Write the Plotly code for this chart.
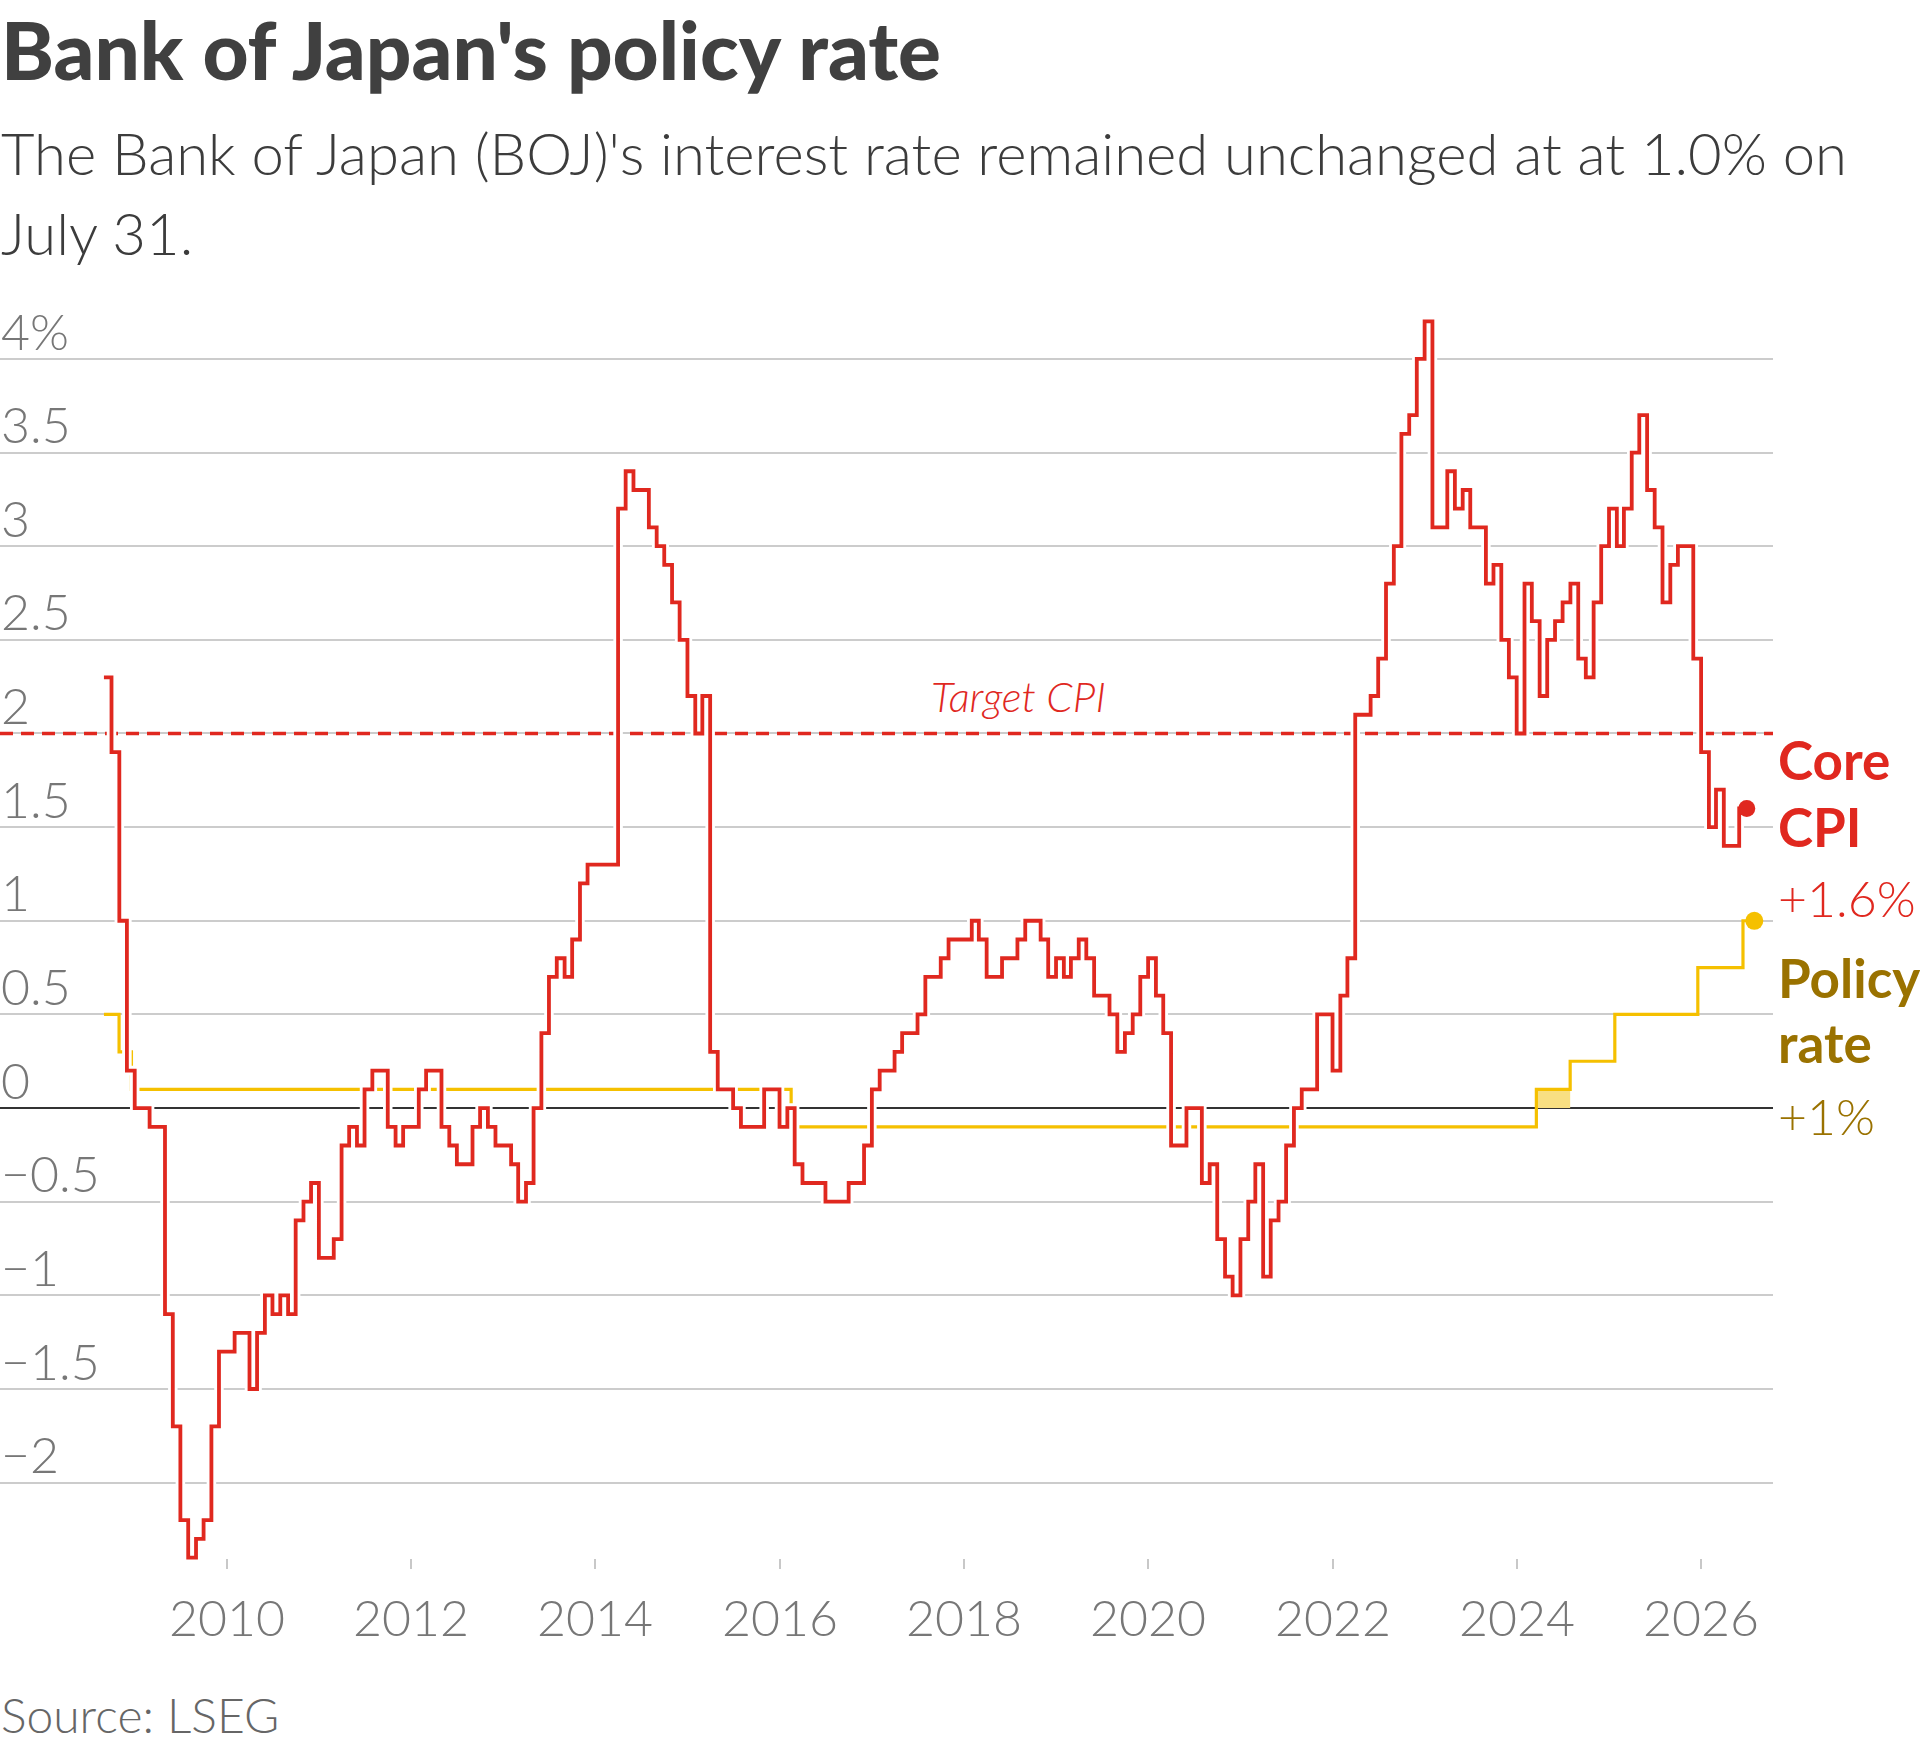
import pandas as pd
import plotly.graph_objects as go

# ---------------- data ----------------
cpi_start = "2008-09-01"   # first monthly observation
cpi_values = [
    # 2008 Sep-Dec
    2.3, 1.9, 1.0, 0.2,
    # 2009
    0.0, 0.0, -0.1, -0.1, -1.1, -1.7, -2.2, -2.4, -2.3, -2.2, -1.7, -1.3,
    # 2010
    -1.3, -1.2, -1.2, -1.5, -1.2, -1.0, -1.1, -1.0, -1.1, -0.6, -0.5, -0.4,
    # 2011
    -0.8, -0.8, -0.7, -0.2, -0.1, -0.2, 0.1, 0.2, 0.2, -0.1, -0.2, -0.1,
    # 2012
    -0.1, 0.1, 0.2, 0.2, -0.1, -0.2, -0.3, -0.3, -0.1, 0.0, -0.1, -0.2,
    # 2013
    -0.2, -0.3, -0.5, -0.4, 0.0, 0.4, 0.7, 0.8, 0.7, 0.9, 1.2, 1.3,
    # 2014
    1.3, 1.3, 1.3, 3.2, 3.4, 3.3, 3.3, 3.1, 3.0, 2.9, 2.7, 2.5,
    # 2015
    2.2, 2.0, 2.2, 0.3, 0.1, 0.1, 0.0, -0.1, -0.1, -0.1, 0.1, 0.1,
    # 2016
    -0.1, 0.0, -0.3, -0.4, -0.4, -0.4, -0.5, -0.5, -0.5, -0.4, -0.4, -0.2,
    # 2017
    0.1, 0.2, 0.2, 0.3, 0.4, 0.4, 0.5, 0.7, 0.7, 0.8, 0.9, 0.9,
    # 2018
    0.9, 1.0, 0.9, 0.7, 0.7, 0.8, 0.8, 0.9, 1.0, 1.0, 0.9, 0.7,
    # 2019
    0.8, 0.7, 0.8, 0.9, 0.8, 0.6, 0.6, 0.5, 0.3, 0.4, 0.5, 0.7,
    # 2020
    0.8, 0.6, 0.4, -0.2, -0.2, 0.0, 0.0, -0.4, -0.3, -0.7, -0.9, -1.0,
    # 2021
    -0.7, -0.5, -0.3, -0.9, -0.6, -0.5, -0.2, 0.0, 0.1, 0.1, 0.5, 0.5,
    # 2022
    0.2, 0.6, 0.8, 2.1, 2.1, 2.2, 2.4, 2.8, 3.0, 3.6, 3.7, 4.0,
    # 2023
    4.2, 3.1, 3.1, 3.4, 3.2, 3.3, 3.1, 3.1, 2.8, 2.9, 2.5, 2.3,
    # 2024
    2.0, 2.8, 2.6, 2.2, 2.5, 2.6, 2.7, 2.8, 2.4, 2.3, 2.7, 3.0,
    # 2025
    3.2, 3.0, 3.2, 3.5, 3.7, 3.3, 3.1, 2.7, 2.9, 3.0, 3.0, 2.4,
    # 2026 Jan-Jun
    1.9, 1.5, 1.7, 1.4, 1.4, 1.6,
]

policy_dates = ["2008-09-01", "2008-10-31", "2008-12-19", "2016-02-16",
                "2024-03-19", "2024-07-31", "2025-01-24", "2025-12-19",
                "2026-06-16", "2026-07-31"]
policy_values = [0.5, 0.3, 0.1, -0.1, 0.1, 0.25, 0.5, 0.75, 1.0, 1.0]

band_dates = ["2024-03-19", "2024-07-31"]   # 0-0.1% target range
band_range = [0.0, 0.1]

target_cpi = 2.0

x_range = ["2007-07-17", "2026-10-13"]
y_range = [-2.461, 4.261]

year_ticks = [2010, 2012, 2014, 2016, 2018, 2020, 2022, 2024, 2026]
y_ticks = [4, 3.5, 3, 2.5, 2, 1.5, 1, 0.5, 0, -0.5, -1, -1.5, -2]
y_labels = ["4%", "3.5", "3", "2.5", "2", "1.5", "1", "0.5", "0",
            "\u22120.5", "\u22121", "\u22121.5", "\u22122"]

cpi_label = "+1.6%"
policy_label = "+1%"

# ---------------- styling ----------------
RED = "#e0281f"
YELLOW = "#f5c000"
GOLD = "#9a7200"
BAND = "#f8df82"
GRID = "#cccccc"
TICKTXT = "#777777"
FONT = "Lato, 'Open Sans', sans-serif"

W, H = 1920, 1747
L, R, T, B = 0, 1773, 310, 1569   # plot area in pixels


def px(x):
    return (x - L) / (R - L)


def py(y):
    return (B - y) / (B - T)


months = pd.date_range(cpi_start, periods=len(cpi_values), freq="MS")
cpi_end = months[-1] + pd.offsets.MonthBegin(1)
cpi_x = list(months) + [cpi_end]
cpi_y = cpi_values + [cpi_values[-1]]

pol_x = pd.to_datetime(policy_dates)
xr = pd.to_datetime(x_range)

fig = go.Figure()

# target CPI reference line (dashed) and zero line
fig.add_trace(go.Scatter(
    x=[xr[0], xr[1]], y=[target_cpi, target_cpi], mode="lines",
    line=dict(color=RED, width=3.5, dash="13px,8px"), hoverinfo="skip", showlegend=False))
fig.add_trace(go.Scatter(
    x=[xr[0], xr[1]], y=[0, 0], mode="lines",
    line=dict(color="#333333", width=2), hoverinfo="skip", showlegend=False))

# target-range band
bx = pd.to_datetime(band_dates)
fig.add_trace(go.Scatter(
    x=[bx[0], bx[1], bx[1], bx[0], bx[0]],
    y=[band_range[0], band_range[0], band_range[1], band_range[1], band_range[0]],
    fill="toself", fillcolor=BAND, mode="lines", line=dict(width=0),
    hoverinfo="skip", showlegend=False))

# policy rate
fig.add_trace(go.Scatter(
    x=pol_x, y=policy_values, mode="lines", line=dict(color=YELLOW, width=3.2, shape="hv"),
    showlegend=False))

# white halo under CPI
fig.add_trace(go.Scatter(
    x=cpi_x, y=cpi_y, mode="lines", line=dict(color="white", width=9.5, shape="hv"),
    hoverinfo="skip", showlegend=False))

# core CPI
fig.add_trace(go.Scatter(
    x=cpi_x, y=cpi_y, mode="lines", line=dict(color=RED, width=3.8, shape="hv"),
    showlegend=False))

# end markers
fig.add_trace(go.Scatter(
    x=[cpi_x[-1]], y=[cpi_y[-1]], mode="markers",
    marker=dict(color=RED, size=17), showlegend=False, cliponaxis=False))
fig.add_trace(go.Scatter(
    x=[pol_x[-1]], y=[policy_values[-1]], mode="markers",
    marker=dict(color=YELLOW, size=18), showlegend=False, cliponaxis=False))

ann = []


def text(x, y, s, size, color, weight=400, style="normal", xanchor="left",
         xref="paper", yref="paper", yshift=0):
    ann.append(dict(x=x, y=y, xref=xref, yref=yref, text=s, showarrow=False,
                    xanchor=xanchor, yanchor="middle", yshift=yshift, borderpad=0,
                    font=dict(family=FONT, size=size, color=color, weight=weight, style=style)))


# title & subtitle
text(px(0), py(79.5 - 0.387 * 80), "Bank of Japan's policy rate", 80, "#404040", weight=900)
text(px(0), py(175 - 0.387 * 58),
     "The Bank of Japan (BOJ)'s interest rate remained unchanged at at 1.0% on",
     58, "#3c3c3c", weight=300)
text(px(0), py(255 - 0.387 * 58), "July 31.", 58, "#3c3c3c", weight=300)

# y tick labels (above gridlines)
for v, lab in zip(y_ticks, y_labels):
    text(0, v, lab, 50, TICKTXT, weight=300, yref="y", yshift=9 + 0.387 * 50)

# x tick labels
for yr in year_ticks:
    text(pd.Timestamp(f"{yr}-01-01"), py(1636.7 - 0.387 * 50), str(yr), 50, TICKTXT,
         weight=300, xanchor="center", xref="x")

# target label
text(px(1018), py(712.7 - 0.387 * 42), "Target CPI", 42, RED, weight=300,
     style="italic", xanchor="center")

# right-hand labels
text(px(1777), py(780 - 0.387 * 53), "Core", 53, RED, weight=700)
text(px(1777), py(847 - 0.387 * 53), "CPI", 53, RED, weight=700)
text(px(1777), py(917 - 0.387 * 50), cpi_label, 50, RED, weight=300)
text(px(1777), py(998 - 0.387 * 53), "Policy", 53, GOLD, weight=700)
text(px(1777), py(1063 - 0.387 * 53), "rate", 53, GOLD, weight=700)
text(px(1777), py(1135 - 0.387 * 50), policy_label, 50, GOLD, weight=300)

# source
text(px(0), py(1732.7 - 0.387 * 48), "Source: LSEG", 48, "#666666", weight=300)

fig.update_layout(
    width=W, height=H,
    margin=dict(l=L, r=W - R, t=T, b=H - B, pad=0),
    paper_bgcolor="white", plot_bgcolor="white",
    showlegend=False,
    annotations=ann,
    xaxis=dict(type="date", range=x_range, showgrid=False, zeroline=False, showline=False,
               tickvals=[pd.Timestamp(f"{y}-01-01") for y in year_ticks],
               showticklabels=False, ticks="inside", ticklen=10, tickwidth=2,
               tickcolor="#c8c8c8", fixedrange=True),
    yaxis=dict(range=y_range, showgrid=True, gridcolor=GRID, gridwidth=1.5,
               tickvals=y_ticks, showticklabels=False, zeroline=False, showline=False,
               ticks="", fixedrange=True),
)

fig.write_html("out.html", config={"displayModeBar": False},
               post_script="document.body.style.margin='0';")
